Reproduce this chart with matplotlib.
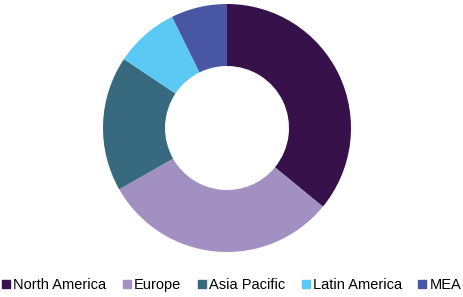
import matplotlib.pyplot as plt
from matplotlib.lines import Line2D

regions = ['North America', 'Europe', 'Asia Pacific', 'Latin America', 'MEA']
shares = [35.9, 30.8, 17.6, 8.3, 7.3]
colors = ['#37114a', '#a390c3', '#376a7e', '#5bc9f3', '#4856a4']

plt.rcParams['font.family'] = ['Liberation Sans', 'DejaVu Sans']

fig = plt.figure(figsize=(4.63, 2.97), dpi=100)
# pie centre at (227, 128) px from top-left, radius ~124 px
ax = fig.add_axes([(227 - 124) / 463, (297 - 128 - 124) / 297, 248 / 463, 248 / 297])
ax.pie(shares, colors=colors, startangle=90, counterclock=False,
       wedgeprops=dict(width=0.5, linewidth=0))
ax.set_xlim(-1, 1)
ax.set_ylim(-1, 1)
ax.set_aspect('equal')
ax.axis('off')

handles = [Line2D([], [], marker='s', linestyle='', markersize=5.4,
                  markerfacecolor=c, markeredgecolor=c) for c in colors]
fig.legend(handles, regions, loc='lower center', bbox_to_anchor=(0.5, -0.028),
           ncol=5, frameon=False, fontsize=10.5, handlelength=0.55,
           handletextpad=0.2, columnspacing=1.15)

fig.savefig('out.png', dpi=100)
